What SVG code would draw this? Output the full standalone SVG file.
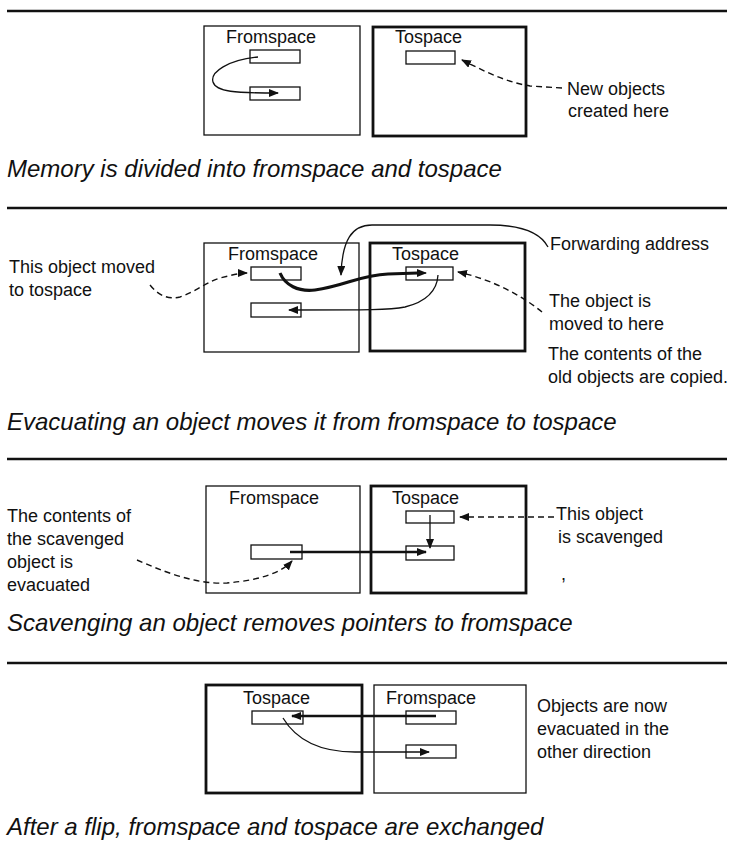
<svg xmlns="http://www.w3.org/2000/svg" width="734" height="842" viewBox="0 0 734 842">
<style>
text{font-family:"Liberation Sans",Arial,Helvetica,sans-serif;fill:#111}
.lbl{font-size:18px}
.cap{font-size:24px;font-style:italic}
.rule{stroke:#111;stroke-width:2.6;fill:none}
.thin{fill:#fff;stroke:#111;stroke-width:1.3}
.thick{fill:#fff;stroke:#111;stroke-width:2.8}
.obj{fill:#fff;stroke:#111;stroke-width:1.3}
.ln{fill:none;stroke:#111;stroke-width:1.3}
.bold{fill:none;stroke:#111;stroke-width:3.2}
.med{fill:none;stroke:#111;stroke-width:2.4}
.dash{fill:none;stroke:#111;stroke-width:1.4;stroke-dasharray:6 4}
</style>
<defs>
<marker id="ah" markerWidth="10" markerHeight="8" refX="9" refY="4" orient="auto" markerUnits="userSpaceOnUse"><path d="M0,0 L10,4 L0,8 Z" fill="#111"/></marker>
</defs>

<g id="rules">
<line class="rule" x1="7" y1="11" x2="727" y2="11"/>
<line class="rule" x1="7" y1="208" x2="727" y2="208"/>
<line class="rule" x1="7" y1="459" x2="727" y2="459"/>
<line class="rule" x1="7" y1="663" x2="727" y2="663"/>
</g>

<!-- Panel 1 -->
<g id="p1-fromspace"><rect class="thin" x="204" y="26" width="156" height="109"/><text class="lbl" x="226" y="43">Fromspace</text></g>
<g id="p1-tospace"><rect class="thick" x="373" y="27" width="153" height="109"/><text class="lbl" x="395" y="43">Tospace</text></g>
<g id="p1-objA"><rect class="obj" x="250" y="50" width="50" height="13"/></g>
<g id="p1-objB"><rect class="obj" x="250" y="87" width="50" height="13"/></g>
<g id="p1-objT"><rect class="obj" x="406" y="51" width="49" height="13"/></g>
<g id="p1-note"><text class="lbl" x="567" y="95">New objects</text><text class="lbl" x="568" y="117">created here</text></g>
<text class="cap" x="7" y="177">Memory is divided into fromspace and tospace</text>

<!-- Panel 2 -->
<g id="p2-fromspace"><rect class="thin" x="204" y="243" width="155" height="109"/><text class="lbl" x="228" y="260">Fromspace</text></g>
<g id="p2-tospace"><rect class="thick" x="370" y="243" width="155" height="108"/><text class="lbl" x="392" y="260">Tospace</text></g>
<g id="p2-objA"><rect class="obj" x="251" y="267" width="50" height="13"/></g>
<g id="p2-objB"><rect class="obj" x="251" y="303" width="50" height="14"/></g>
<g id="p2-objT"><rect class="obj" x="406" y="267" width="47" height="13"/></g>
<g id="p2-note-left"><text class="lbl" x="9" y="273">This object moved</text><text class="lbl" x="9" y="296">to tospace</text></g>
<g id="p2-note-fwd"><text class="lbl" x="550" y="250">Forwarding address</text></g>
<g id="p2-note-right"><text class="lbl" x="549" y="307">The object is</text><text class="lbl" x="549" y="330">moved to here</text><text class="lbl" x="548" y="360">The contents of the</text><text class="lbl" x="548" y="383">old objects are copied.</text></g>
<text class="cap" x="7" y="430">Evacuating an object moves it from fromspace to tospace</text>

<!-- Panel 3 -->
<g id="p3-fromspace"><rect class="thin" x="206" y="486" width="154" height="107"/><text class="lbl" x="229" y="504">Fromspace</text></g>
<g id="p3-tospace"><rect class="thick" x="371" y="486" width="155" height="107"/><text class="lbl" x="392" y="504">Tospace</text></g>
<g id="p3-objF"><rect class="obj" x="251" y="545" width="51" height="14"/></g>
<g id="p3-objT1"><rect class="obj" x="406" y="511" width="48" height="12"/></g>
<g id="p3-objT2"><rect class="obj" x="406" y="546" width="48" height="14"/></g>
<g id="p3-note-left"><text class="lbl" x="7" y="522">The contents of</text><text class="lbl" x="7" y="545">the scavenged</text><text class="lbl" x="7" y="568">object is</text><text class="lbl" x="7" y="591">evacuated</text></g>
<g id="p3-note-right"><text class="lbl" x="556" y="520">This object</text><text class="lbl" x="558" y="543">is scavenged</text><text class="lbl" x="561" y="580">,</text></g>
<text class="cap" x="7" y="631">Scavenging an object removes pointers to fromspace</text>

<!-- Panel 4 -->
<g id="p4-tospace"><rect class="thick" x="206" y="685" width="156" height="108"/><text class="lbl" x="243" y="704">Tospace</text></g>
<g id="p4-fromspace"><rect class="thin" x="374" y="685" width="152" height="108"/><text class="lbl" x="386" y="704">Fromspace</text></g>
<g id="p4-objT"><rect class="obj" x="252" y="711" width="51" height="13"/></g>
<g id="p4-objF1"><rect class="obj" x="406" y="711" width="50" height="13"/></g>
<g id="p4-objF2"><rect class="obj" x="406" y="745" width="50" height="13"/></g>
<g id="p4-note"><text class="lbl" x="537" y="712">Objects are now</text><text class="lbl" x="537" y="735">evacuated in the</text><text class="lbl" x="537" y="758">other direction</text></g>
<text class="cap" x="7" y="835">After a flip, fromspace and tospace are exchanged</text>

<g id="connectors">
<!-- panel 1 -->
<path class="ln" d="M 258 57 C 228 60, 210 72, 213 82 C 216 92, 235 93, 278 93" marker-end="url(#ah)"/>
<path class="dash" d="M 562 88 L 530 86 C 505 82, 482 70, 462 60" marker-end="url(#ah)"/>
<!-- panel 2 -->
<path class="dash" d="M 150 285 C 158 295, 168 300, 180 297 C 195 292, 205 283, 220 278 C 232 275, 240 273, 247 273" marker-end="url(#ah)"/>
<path class="bold" d="M 280 273 C 285 285, 298 292, 315 290 C 345 286, 360 275, 388 274 L 418 273"/>
<path class="ln" d="M 410 273 L 426 273" marker-end="url(#ah)"/>
<path class="ln" d="M 548 247 C 540 232, 520 225, 490 225 L 372 225 C 352 225, 342 240, 341 275" marker-end="url(#ah)"/>
<path class="ln" d="M 438 275 C 437 292, 425 302, 405 307 C 390 310, 370 310, 289 310" marker-end="url(#ah)"/>
<path class="dash" d="M 542 312 C 525 298, 495 280, 458 272" marker-end="url(#ah)"/>
<!-- panel 3 -->
<path class="med" d="M 290 552 L 426 552" marker-end="url(#ah)"/>
<path class="ln" d="M 430 515 L 430 548" marker-end="url(#ah)"/>
<path class="dash" d="M 554 517 L 460 517" marker-end="url(#ah)"/>
<path class="dash" d="M 137 560 C 160 570, 195 585, 227 583 C 262 580, 282 572, 292 561" marker-end="url(#ah)"/>
<!-- panel 4 -->
<path class="med" d="M 436 716 L 292 716" marker-end="url(#ah)"/>
<path class="ln" d="M 283 718 C 295 738, 318 752, 355 752 L 429 752" marker-end="url(#ah)"/>
</g>
</svg>
